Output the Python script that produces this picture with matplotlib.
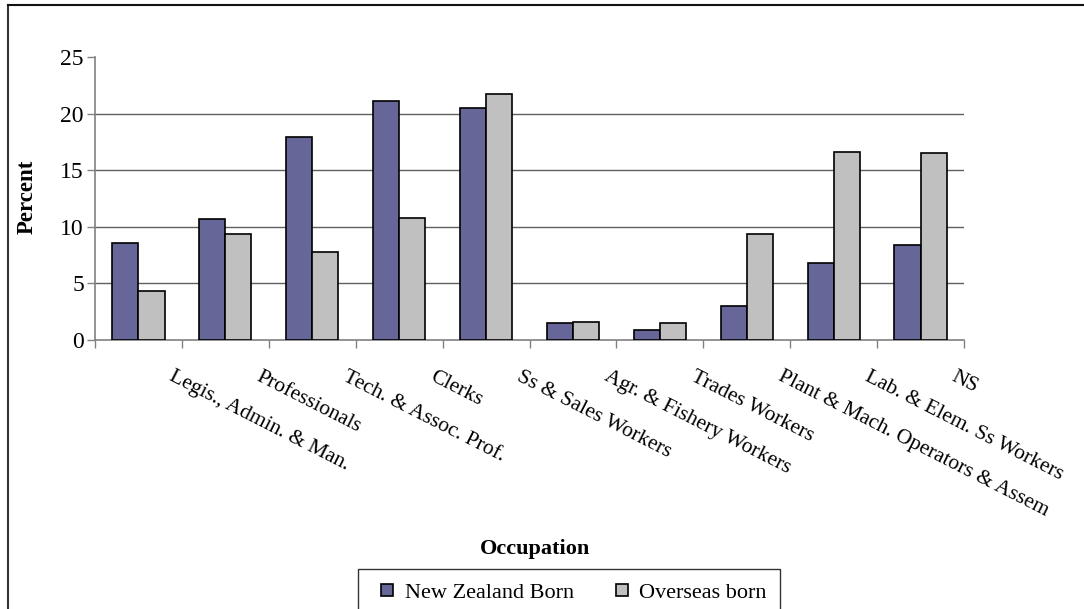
import numpy as np
import matplotlib.pyplot as plt
from matplotlib.lines import Line2D

plt.rcParams['font.family'] = ['Liberation Serif', 'DejaVu Serif']

occupations = [
    'Legis., Admin. & Man.',
    'Professionals',
    'Tech. & Assoc. Prof.',
    'Clerks',
    'Ss & Sales Workers',
    'Agr. & Fishery Workers',
    'Trades Workers',
    'Plant & Mach. Operators & Assem',
    'Lab. & Elem. Ss Workers',
    'NS',
]
nz_born = [8.6, 10.7, 17.9, 21.1, 20.5, 1.5, 0.9, 3.0, 6.8, 8.4]
overseas_born = [4.3, 9.4, 7.8, 10.8, 21.7, 1.6, 1.5, 9.4, 16.6, 16.5]
y_ticks = [0, 5, 10, 15, 20, 25]

nz_color = '#666699'
os_color = '#C0C0C0'

fig = plt.figure(figsize=(10.84, 6.09), dpi=100)
ax = fig.add_axes([95 / 1084, 1 - 340 / 609, 869 / 1084, 283 / 609])

x = np.arange(len(occupations))
w = 0.30
ax.bar(x - w / 2, nz_born, w, color=nz_color, edgecolor='black', linewidth=1.2,
       label='New Zealand Born', zorder=3)
ax.bar(x + w / 2, overseas_born, w, color=os_color, edgecolor='black', linewidth=1.2,
       label='Overseas born', zorder=3)

ax.set_xlim(-0.5, len(occupations) - 0.5)
ax.set_ylim(0, 25)
ax.set_yticks(y_ticks)
ax.set_yticklabels([str(v) for v in y_ticks], fontsize=17)
for v in y_ticks[1:-1]:
    ax.axhline(v, color='#606060', linewidth=1.0, zorder=1)

# ticks sit between the category groups
ax.set_xticks(np.arange(len(occupations) + 1) - 0.5)
ax.set_xticklabels([])
ax.tick_params(axis='x', direction='out', length=6, color='#808080', width=1)
ax.tick_params(axis='y', direction='out', length=6, color='#808080', width=1, pad=2)

for s in ['top', 'right']:
    ax.spines[s].set_visible(False)
for s in ['left', 'bottom']:
    ax.spines[s].set_color('#808080')
    ax.spines[s].set_linewidth(1.2)

for i, name in enumerate(occupations):
    ax.annotate(name, xy=(i + 0.37, 0), xycoords=('data', 'axes fraction'),
                xytext=(0, -36), textcoords='offset pixels',
                rotation=-27, rotation_mode='anchor', ha='left', va='center',
                fontsize=15.5)

fig.text(27 / 1084, 1 - 197 / 609, 'Percent', rotation=90, ha='center', va='center',
         fontsize=16.5, fontweight='bold')
fig.text(535 / 1084, 1 - 549 / 609, 'Occupation', ha='center', va='center',
         fontsize=16, fontweight='bold')

handles = [Line2D([], [], linestyle='none', marker='s', markersize=9,
                  markerfacecolor=nz_color, markeredgecolor='black', markeredgewidth=1.2),
           Line2D([], [], linestyle='none', marker='s', markersize=9,
                  markerfacecolor=os_color, markeredgecolor='black', markeredgewidth=1.2)]
leg = fig.legend(handles, ['New Zealand Born', 'Overseas born'], loc='upper left',
                 bbox_to_anchor=(358 / 1084, 1 - 569 / 609), ncol=2, fontsize=16,
                 frameon=True, fancybox=False, borderpad=0.6, borderaxespad=0,
                 handlelength=1.4, handletextpad=0.1, columnspacing=1.45)
leg.get_frame().set_edgecolor('black')
leg.get_frame().set_linewidth(1.0)

# chart area border (left and top edges)
fig.add_artist(Line2D([7.5 / 1084, 7.5 / 1084], [0, 1 - 4.5 / 609], color='#333333',
                      linewidth=1.5, transform=fig.transFigure))
fig.add_artist(Line2D([7.5 / 1084, 1], [1 - 4.5 / 609, 1 - 4.5 / 609], color='#111111',
                      linewidth=1.5, transform=fig.transFigure))

fig.savefig('out.png', dpi=100)
